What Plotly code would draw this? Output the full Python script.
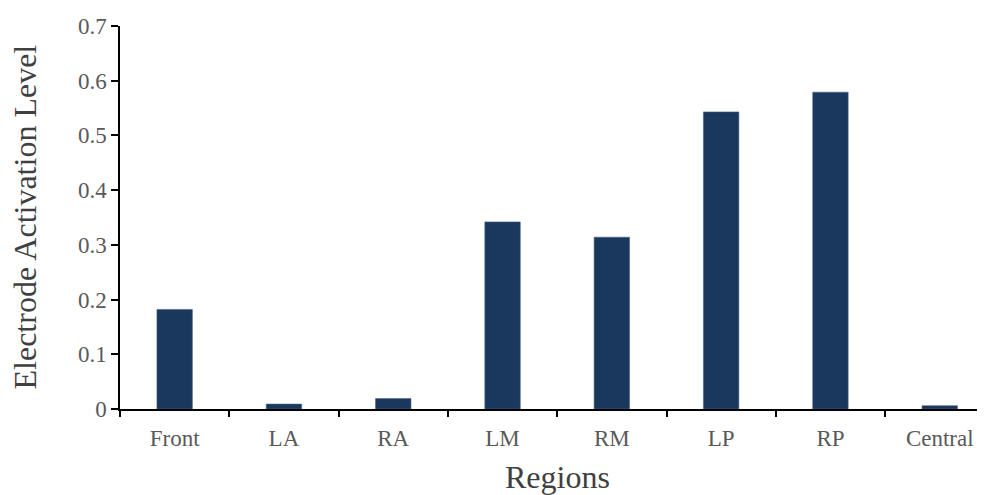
import plotly.graph_objects as go

regions = ["Front", "LA", "RA", "LM", "RM", "LP", "RP", "Central"]
activation = [0.182, 0.009, 0.019, 0.342, 0.314, 0.543, 0.579, 0.006]
y_ticks = [0, 0.1, 0.2, 0.3, 0.4, 0.5, 0.6, 0.7]
y_tick_text = ["0", "0.1", "0.2", "0.3", "0.4", "0.5", "0.6", "0.7"]

FONT = "Liberation Serif, Times New Roman, serif"

fig = go.Figure()
fig.add_trace(go.Bar(
    x=list(range(len(regions))),
    y=activation,
    marker=dict(color="#1a375e", line=dict(color="#4a6182", width=0.6)),
    width=0.324,
))

fig.update_layout(
    width=977, height=487,
    margin=dict(l=112, r=0, t=18, b=86),
    paper_bgcolor="white", plot_bgcolor="white",
    showlegend=False,
    font=dict(family=FONT, size=23, color="#595959"),
    xaxis=dict(
        range=[-0.5, 7.414],
        tickmode="array",
        tickvals=list(range(len(regions))),
        ticktext=regions,
        showline=True, linecolor="black", linewidth=1.5,
        showgrid=False, zeroline=False,
        ticks="", ticklabelstandoff=8,
        tickfont=dict(family=FONT, size=23, color="#595959"),
    ),
    yaxis=dict(
        range=[0, 0.7],
        tickmode="array",
        tickvals=y_ticks,
        ticktext=y_tick_text,
        showline=True, linecolor="black", linewidth=1.5,
        showgrid=False, zeroline=False,
        ticks="outside", ticklen=7, tickwidth=1.5, tickcolor="black",
        tickfont=dict(family=FONT, size=23, color="#595959"),
    ),
    annotations=[
        dict(text="Regions", xref="x", x=3.5, yref="paper", y=0,
             xanchor="center", yanchor="top", yshift=-48, showarrow=False,
             font=dict(family=FONT, size=32, color="#404040")),
        dict(text="Electrode Activation Level", xref="paper", x=0, yref="paper", y=0.5,
             xanchor="center", yanchor="middle", xshift=-96, textangle=-90, showarrow=False,
             font=dict(family=FONT, size=32, color="#404040")),
    ],
)

# boundary ticks on the x axis, drawn as a secondary overlay axis
fig.update_layout(
    xaxis2=dict(
        overlaying="x", matches="x", side="bottom",
        tickmode="array",
        tickvals=[i - 0.5 for i in range(len(regions) + 1)],
        ticktext=[""] * (len(regions) + 1),
        ticks="outside", ticklen=7, tickwidth=1.5, tickcolor="black",
        showline=False, showgrid=False, zeroline=False,
    )
)
fig.add_trace(go.Scatter(x=[0], y=[0], xaxis="x2", mode="markers",
                         marker=dict(opacity=0), hoverinfo="skip"))

fig.write_html("out.html")
